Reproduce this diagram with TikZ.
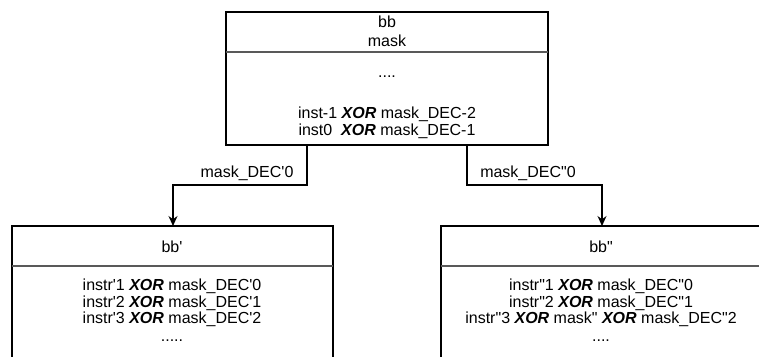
\documentclass[tikz,border=0pt]{standalone}
\usepackage{fontspec}
\setmainfont{Liberation Sans}
\usetikzlibrary{arrows.meta}
\newcommand\sq{\textquotesingle}
\newcommand\dq{\textquotedbl}
\newcommand\xor{\textbf{\textit{XOR}}}
\begin{document}
\begin{tikzpicture}[x=1pt,y=-1pt,
  boxline/.style={draw=black,line width=1.2pt},
  divline/.style={draw=black!65,line width=1.2pt},
  txt/.style={font=\fontsize{16}{17}\selectfont,align=center,inner sep=0pt,anchor=base},
  conn/.style={draw=black,line width=1.1pt,-{Stealth[length=10pt,width=9pt]}},
  lbl/.style={font=\fontsize{16}{17}\selectfont,inner sep=0pt,anchor=base}]
\useasboundingbox (0,0) rectangle (759,356);
% top box
\draw[boxline] (226,12) rectangle (548,145);
\draw[divline] (226,52) -- (548,52);
\node[txt] (t1) at (387,27) {bb};
\node[txt] (t2) at (387,46) {mask};
\node[txt] (t3) at (387,77) {....};
\node[txt] (t4) at (387,118) {inst-1 \xor{} mask\_DEC-2};
\node[txt] (t5) at (387,135) {inst0\ \ \xor{} mask\_DEC-1};
% left box
\draw[boxline] (12,360) -- (12,226) -- (333,226) -- (333,360);
\draw[divline] (12,266) -- (333,266);
\node[txt] (l1) at (172,252) {bb\sq};
\node[txt] (l2) at (172,290) {instr\sq1 \xor{} mask\_DEC\sq0};
\node[txt] (l3) at (172,307) {instr\sq2 \xor{} mask\_DEC\sq1};
\node[txt] (l4) at (172,323) {instr\sq3 \xor{} mask\_DEC\sq2};
\node[txt] (l5) at (172,341) {.....};
% right box
\draw[boxline] (441,360) -- (441,226) -- (765,226);
\draw[divline] (441,266) -- (765,266);
\node[txt] (r1) at (601,252) {bb\dq};
\node[txt] (r2) at (601,290) {instr\dq1 \xor{} mask\_DEC\dq0};
\node[txt] (r3) at (601,307) {instr\dq2 \xor{} mask\_DEC\dq1};
\node[txt] (r4) at (601,323) {instr\dq3 \xor{} mask\dq{} \xor{} mask\_DEC\dq2};
\node[txt] (r5) at (601,341) {....};
% connectors
\coordinate (lstart) at (307,145);
\coordinate (lend) at (173,226);
\coordinate (rstart) at (467,145);
\coordinate (rend) at (602,226);
\draw[conn] (lstart) |- (173,185) -- (lend);
\draw[conn] (rstart) |- (602,185) -- (rend);
\node[lbl] (la) at (247,177) {mask\_DEC\sq0};
\node[lbl] (ra) at (528,177) {mask\_DEC\dq0};
\end{tikzpicture}
\end{document}
